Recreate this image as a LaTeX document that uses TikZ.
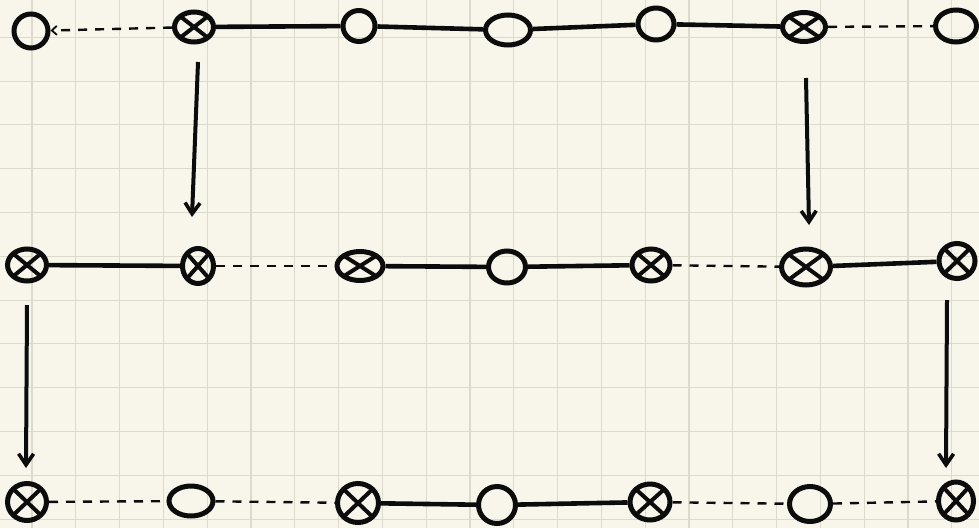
\documentclass[tikz,border=0pt]{standalone}
\usetikzlibrary{shapes.geometric,arrows.meta}
\definecolor{paper}{RGB}{248,246,234}
\definecolor{gridc}{RGB}{220,218,204}
\definecolor{ink}{RGB}{12,12,12}
\tikzset{
  pnode/.style={ellipse, draw=ink, line width=5pt, inner sep=0pt},
  xnode/.style={pnode, path picture={
      \draw[ink, line width=4pt] (path picture bounding box.north west) -- (path picture bounding box.south east)
        (path picture bounding box.north east) -- (path picture bounding box.south west);}},
  solidlink/.style={draw=ink, line width=4.6pt},
  dashlink/.style={draw=ink, line width=2.4pt, dash pattern=on 9pt off 8pt},
  downarrow/.style={draw=ink, line width=4pt, -{Straight Barb[length=11pt,width=15pt,line width=3.6pt]}},
  gridline/.style={draw=gridc, line width=1.1pt}
}
\begin{document}
\begin{tikzpicture}[x=1pt,y=-1pt]
\fill[paper] (0,0) rectangle (979,528);
\useasboundingbox (0,0) rectangle (979,528);
\foreach \i in {0,...,21} \draw[gridline] ({32+43.8*\i},0) -- ({32+43.8*\i},528);
\foreach \j in {0,...,11} \draw[gridline] (0,{37.3+43.8*\j}) -- (979,{37.3+43.8*\j});

% row 1
\node[pnode, minimum width=34pt, minimum height=34pt] (n11) at (31,31) {};
\node[xnode, minimum width=39pt, minimum height=30pt] (n12) at (194,27) {};
\node[pnode, minimum width=32pt, minimum height=31pt] (n13) at (359,26) {};
\node[pnode, minimum width=45pt, minimum height=30pt] (n14) at (508,30) {};
\node[pnode, minimum width=36pt, minimum height=32pt] (n15) at (656,24) {};
\node[xnode, minimum width=43pt, minimum height=29pt] (n16) at (804,27) {};
\node[pnode, minimum width=41pt, minimum height=32pt] (n17) at (956,26) {};

% row 2
\node[xnode, minimum width=39pt, minimum height=32pt] (n21) at (27,265) {};
\node[xnode, minimum width=31pt, minimum height=35pt] (n22) at (198,266) {};
\node[xnode, minimum width=46pt, minimum height=29pt] (n23) at (360,266) {};
\node[pnode, minimum width=37pt, minimum height=32pt] (n24) at (507,267) {};
\node[xnode, minimum width=38pt, minimum height=32pt] (n25) at (651,265) {};
\node[xnode, minimum width=49pt, minimum height=36pt] (n26) at (806,267) {};
\node[xnode, minimum width=36pt, minimum height=35pt] (n27) at (957,261) {};

% row 3
\node[xnode, minimum width=39pt, minimum height=37pt] (n31) at (27,502) {};
\node[pnode, minimum width=44pt, minimum height=30pt] (n32) at (191,501) {};
\node[xnode, minimum width=41pt, minimum height=39pt] (n33) at (358,503) {};
\node[pnode, minimum width=37pt, minimum height=37pt] (n34) at (497,505) {};
\node[xnode, minimum width=40pt, minimum height=36pt] (n35) at (650,502) {};
\node[pnode, minimum width=41pt, minimum height=35pt] (n36) at (810,504) {};
\node[xnode, minimum width=35pt, minimum height=38pt] (n37) at (956,501) {};

% row 1 links
\draw[dashlink, -{Straight Barb[length=5pt,width=9pt,line width=1.8pt]}] (n12) -- (n11);
\draw[solidlink] (n12) -- (n13);
\draw[solidlink] (n13) -- (n14);
\draw[solidlink] (n14) -- (n15);
\draw[solidlink] (n15) -- (n16);
\draw[dashlink] (n16) -- (n17);

% row 2 links
\draw[solidlink] (n21) -- (n22);
\draw[dashlink] (n22) -- (n23);
\draw[solidlink] (n23) -- (n24);
\draw[solidlink] (n24) -- (n25);
\draw[dashlink] (n25) -- (n26);
\draw[solidlink] (n26) -- (n27);

% row 3 links
\draw[dashlink] (n31) -- (n32);
\draw[dashlink] (n32) -- (n33);
\draw[solidlink] (n33) -- (n34);
\draw[solidlink] (n34) -- (n35);
\draw[dashlink] (n35) -- (n36);
\draw[dashlink] (n36) -- (n37);

% vertical arrows
\coordinate (a1s) at (198,62);  \coordinate (a1e) at (192,217);
\coordinate (a2s) at (806,78);  \coordinate (a2e) at (809,225);
\coordinate (a3s) at (27,305);  \coordinate (a3e) at (26,468);
\coordinate (a4s) at (947,300); \coordinate (a4e) at (946,468);
\draw[downarrow] (a1s) -- (a1e);
\draw[downarrow] (a2s) -- (a2e);
\draw[downarrow] (a3s) -- (a3e);
\draw[downarrow] (a4s) -- (a4e);
\end{tikzpicture}
\end{document}
